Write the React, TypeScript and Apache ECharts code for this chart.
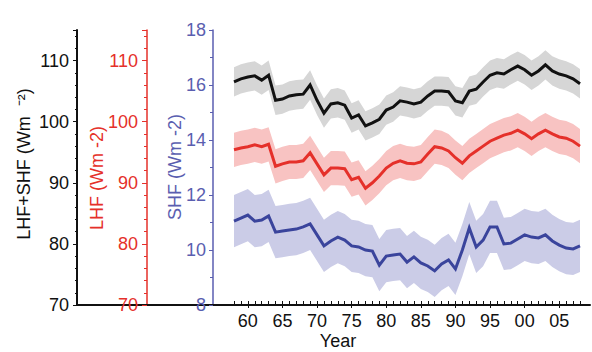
import React, { useEffect, useRef } from "react";
import * as echarts from "echarts";

const years = [
  1958, 1959, 1960, 1961, 1962, 1963, 1964, 1965, 1966, 1967,
  1968, 1969, 1970, 1971, 1972, 1973, 1974, 1975, 1976, 1977,
  1978, 1979, 1980, 1981, 1982, 1983, 1984, 1985, 1986, 1987,
  1988, 1989, 1990, 1991, 1992, 1993, 1994, 1995, 1996, 1997,
  1998, 1999, 2000, 2001, 2002, 2003, 2004, 2005, 2006, 2007, 2008,
];

// LHF+SHF (W m-2)
const totalFlux = [
  106.5, 107.0, 107.3, 107.5, 106.8, 107.6, 103.5, 103.7, 104.2, 104.4,
  104.5, 106.0, 103.5, 101.4, 102.9, 103.1, 102.7, 100.6, 101.1, 99.3,
  99.8, 100.4, 101.9, 102.4, 103.4, 103.2, 102.9, 103.2, 104.2, 105.0,
  105.0, 104.9, 103.4, 103.1, 105.0, 105.3, 106.5, 107.6, 108.0, 107.8,
  108.5, 109.1, 108.5, 107.6, 108.3, 109.3, 108.3, 107.8, 107.5, 107.0, 106.2,
];

// LHF (W m-2)
const lhf = [
  95.4, 95.7, 95.9, 96.2, 95.9, 96.3, 92.7, 93.1, 93.4, 93.4,
  93.6, 94.9, 93.1, 91.3, 92.4, 92.4, 92.3, 90.5, 90.9, 89.1,
  90.0, 91.1, 92.4, 93.2, 93.6, 93.2, 93.1, 93.4, 94.7, 95.9,
  95.7, 95.2, 94.1, 93.2, 94.4, 95.2, 96.0, 96.8, 97.3, 97.8,
  98.1, 98.6, 98.0, 97.2, 98.0, 98.6, 98.0, 97.5, 97.3, 96.8, 96.0,
];

// SHF (W m-2)
const shf = [
  11.05, 11.16, 11.27, 11.05, 11.09, 11.24, 10.65, 10.69, 10.73, 10.76,
  10.84, 10.95, 10.55, 10.15, 10.33, 10.47, 10.36, 10.15, 10.11, 10.0,
  9.96, 9.45, 9.78, 9.82, 9.85, 9.56, 9.75, 9.53, 9.42, 9.24,
  9.49, 9.64, 9.31, 10.0, 10.8, 10.11, 10.36, 10.84, 10.84, 10.22,
  10.25, 10.4, 10.55, 10.47, 10.44, 10.55, 10.33, 10.18, 10.07, 10.04, 10.15,
];

// half-width of the shaded uncertainty bands
const totalSpread = 2.4;
const lhfSpread = 2.8;
const shfSpread = 0.95;

const FONT = '"Liberation Sans", Arial, sans-serif';
const BLACK = "#111111";
const RED = "#e5302a";
const BLUE = "#3a449c";
const BLUE_AXIS = "#5a5eb0";

function band(values: number[], spread: number, stack: string, yAxisIndex: number, color: string) {
  return [
    {
      type: "line",
      xAxisIndex: 0,
      yAxisIndex,
      stack,
      data: values.map((v) => v - spread),
      symbol: "none",
      lineStyle: { opacity: 0 },
      silent: true,
      z: 1,
    },
    {
      type: "line",
      xAxisIndex: 0,
      yAxisIndex,
      stack,
      data: values.map(() => 2 * spread),
      symbol: "none",
      lineStyle: { opacity: 0 },
      areaStyle: { color, opacity: 1 },
      silent: true,
      z: 1,
    },
  ];
}

function mainLine(values: number[], yAxisIndex: number, color: string) {
  return {
    type: "line",
    xAxisIndex: 0,
    yAxisIndex,
    data: values,
    symbol: "none",
    lineStyle: { color, width: 3, join: "miter" },
    z: 3,
  };
}

export default function App() {
  const ref = useRef<HTMLDivElement>(null);
  useEffect(() => {
    if (!ref.current) return;
    const chart = echarts.init(ref.current, undefined, { renderer: "svg" });
    const yearStr = years.map(String);
    const option: any = {
      animation: false,
      backgroundColor: "#ffffff",
      textStyle: { fontFamily: FONT },
      grid: [
        { left: 234, right: 12, top: 30, bottom: 47 },
        { left: 77, right: 2, top: 30, bottom: 47 },
      ],
      xAxis: [
        {
          type: "category",
          gridIndex: 0,
          position: "bottom",
          data: yearStr,
          boundaryGap: false,
          axisLine: { show: false, onZero: false },
          axisTick: { show: true, inside: true, length: 4, interval: 0, lineStyle: { color: BLACK, width: 1 } },
          axisLabel: {
            interval: (_i: number, v: string) => Number(v) % 5 === 0,
            formatter: (v: string) => String(Number(v) % 100).padStart(2, "0"),
            color: BLACK,
            fontSize: 18,
            fontFamily: FONT,
            margin: 7,
          },
          splitLine: { show: false },
        },
        {
          type: "category",
          gridIndex: 0,
          position: "bottom",
          data: yearStr,
          boundaryGap: false,
          axisLine: { show: false, onZero: false },
          axisTick: {
            show: true,
            inside: false,
            length: 3,
            interval: (_i: number, v: string) => Number(v) % 5 === 0,
            lineStyle: { color: BLACK, width: 1 },
          },
          axisLabel: { show: false },
          splitLine: { show: false },
        },
        {
          type: "value",
          gridIndex: 1,
          min: 0,
          max: 1,
          axisLine: { show: true, onZero: false, lineStyle: { color: BLACK, width: 2 } },
          axisTick: { show: false },
          axisLabel: { show: false },
          splitLine: { show: false },
        },
      ],
      yAxis: [
        {
          type: "value",
          gridIndex: 0,
          position: "left",
          offset: 157,
          min: 70,
          max: 115,
          interval: 10,
          axisLine: { show: true, onZero: false, lineStyle: { color: BLACK, width: 2 } },
          axisTick: { show: true, length: 4, lineStyle: { color: BLACK } },
          minorTick: { show: true, splitNumber: 5, length: 2, lineStyle: { color: BLACK } },
          axisLabel: { color: BLACK, fontSize: 18, fontFamily: FONT, margin: 8, showMaxLabel: false },
          splitLine: { show: false },
        },
        {
          type: "value",
          gridIndex: 0,
          position: "left",
          offset: 87,
          min: 70,
          max: 115,
          interval: 10,
          axisLine: { show: true, onZero: false, lineStyle: { color: RED, width: 1.5 } },
          axisTick: { show: true, length: 5, lineStyle: { color: RED } },
          minorTick: { show: true, splitNumber: 5, length: 3, lineStyle: { color: RED } },
          axisLabel: { color: RED, fontSize: 18, fontFamily: FONT, margin: 9, showMaxLabel: false },
          splitLine: { show: false },
        },
        {
          type: "value",
          gridIndex: 0,
          position: "left",
          offset: 21,
          min: 8,
          max: 18,
          interval: 2,
          axisLine: { show: true, onZero: false, lineStyle: { color: BLUE_AXIS, width: 1.5 } },
          axisTick: { show: true, length: 4, lineStyle: { color: BLUE_AXIS } },
          minorTick: { show: true, splitNumber: 2, length: 3, lineStyle: { color: BLUE_AXIS } },
          axisLabel: { color: BLUE_AXIS, fontSize: 18, fontFamily: FONT, margin: 7 },
          splitLine: { show: false },
        },
        {
          type: "value",
          gridIndex: 1,
          min: 0,
          max: 1,
          show: false,
        },
      ],
      graphic: [
        {
          type: "text",
          x: 24,
          y: 164,
          rotation: Math.PI / 2,
          style: {
            text: "LHF+SHF (Wm  ⁻²)",
            fill: BLACK,
            font: `18px ${FONT}`,
            align: "center",
            verticalAlign: "middle",
            textAlign: "center",
            textVerticalAlign: "middle",
          },
        },
        {
          type: "text",
          x: 97,
          y: 178,
          rotation: Math.PI / 2,
          style: {
            text: "LHF (Wm -2)",
            fill: RED,
            font: `18px ${FONT}`,
            align: "center",
            verticalAlign: "middle",
            textAlign: "center",
            textVerticalAlign: "middle",
          },
        },
        {
          type: "text",
          x: 175,
          y: 167,
          rotation: Math.PI / 2,
          style: {
            text: "SHF (Wm -2)",
            fill: BLUE_AXIS,
            font: `18px ${FONT}`,
            align: "center",
            verticalAlign: "middle",
            textAlign: "center",
            textVerticalAlign: "middle",
          },
        },
        {
          type: "text",
          x: 338,
          y: 341,
          style: {
            text: "Year",
            fill: BLACK,
            font: `18px ${FONT}`,
            align: "center",
            verticalAlign: "middle",
            textAlign: "center",
            textVerticalAlign: "middle",
          },
        },
      ],
      series: [
        ...band(totalFlux, totalSpread, "totalBand", 0, "#d6d6d6"),
        ...band(lhf, lhfSpread, "lhfBand", 1, "#f8c3c2"),
        ...band(shf, shfSpread, "shfBand", 2, "#cbcce7"),
        mainLine(totalFlux, 0, BLACK),
        mainLine(lhf, 1, RED),
        mainLine(shf, 2, BLUE),
      ],
    };
    chart.setOption(option);
    return () => chart.dispose();
  }, []);
  return (
    <div
      ref={ref}
      style={{ position: "fixed", left: 0, top: 0, width: 592, height: 352, background: "#fff" }}
    />
  );
}
